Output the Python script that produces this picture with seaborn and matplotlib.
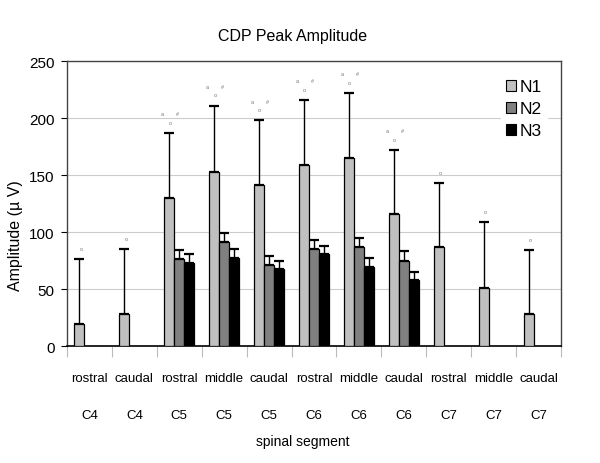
import numpy as np
import pandas as pd
import matplotlib
matplotlib.use("Agg")
import matplotlib.pyplot as plt
import seaborn as sns
from matplotlib.patches import Patch

# data
positions = ["rostral", "caudal", "rostral", "middle", "caudal", "rostral",
             "middle", "caudal", "rostral", "middle", "caudal"]
segments = ["C4", "C4", "C5", "C5", "C5", "C6", "C6", "C6", "C7", "C7", "C7"]

n1_mean = [19, 28, 130, 153, 141, 159, 165, 116, 87, 51, 28]
n1_err = [57, 57, 57, 58, 57, 57, 57, 56, 56, 58, 56]
n2_mean = [np.nan, np.nan, 76, 91, 71, 85, 87, 75, np.nan, np.nan, np.nan]
n2_err = [np.nan, np.nan, 8, 8, 8, 8, 8, 8, np.nan, np.nan, np.nan]
n3_mean = [np.nan, np.nan, 73, 77, 68, 81, 69, 58, np.nan, np.nan, np.nan]
n3_err = [np.nan, np.nan, 8, 8, 7, 7, 8, 7, np.nan, np.nan, np.nan]

# significance marks above the N1 bars
marks = ["c", "c", "ac#", "ac#", "ac#", "ac#", "ac#", "ac#", "c", "c", "c"]

series = ["N1", "N2", "N3"]
colors = ["#c0c0c0", "#808080", "#000000"]

labels = [p + "\n\n" + s for p, s in zip(positions, segments)]
rows = []
for name, means, errs in zip(series, [n1_mean, n2_mean, n3_mean], [n1_err, n2_err, n3_err]):
    for lab, m, e in zip(labels, means, errs):
        rows.append({"segment": lab, "series": name, "amp": m, "err": e})
df = pd.DataFrame(rows)

sns.set_style("white")
plt.rcParams["font.family"] = ["Liberation Sans Narrow", "Liberation Sans", "DejaVu Sans"]
plt.rcParams["text.color"] = "black"
plt.rcParams["axes.labelcolor"] = "black"
plt.rcParams["xtick.color"] = "black"
plt.rcParams["ytick.color"] = "black"

fig = plt.figure(figsize=(6, 4.64), dpi=100)
ax = fig.add_axes([0.1117, 0.252, 0.8233, 0.614])

sns.barplot(data=df, x="segment", y="amp", hue="series", order=labels,
            hue_order=series, palette=colors, width=0.67, edgecolor="black",
            linewidth=0.9, errorbar=None, legend=False, ax=ax, zorder=3)

# upper error bars, matched to the drawn bars (NaN rows have no bar)
bar_conts = list(ax.containers[:3])
n1_tops = []
for cont, name in zip(bar_conts, series):
    sub = df[(df["series"] == name) & df["amp"].notna()]
    for bar, (_, r) in zip(cont, sub.iterrows()):
        xc = bar.get_x() + bar.get_width() / 2
        ax.errorbar(xc, r["amp"], yerr=[[0], [r["err"]]], fmt="none",
                    ecolor="black", elinewidth=1.0, capsize=3.5, capthick=1.6,
                    zorder=2)
        if name == "N1":
            n1_tops.append((xc, r["amp"] + r["err"]))

for (xc, top), m in zip(n1_tops, marks):
    kw = dict(xycoords="data", textcoords="offset points", fontsize=4,
              color="#777777", ha="center", va="bottom")
    if len(m) == 1:
        ax.annotate("o", (xc, top), xytext=(1.5, 6), **kw)
    else:
        ax.annotate("a", (xc, top), xytext=(-5, 12), **kw)
        ax.annotate("o", (xc, top), xytext=(0.5, 6), **kw)
        ax.annotate("#", (xc, top), xytext=(6, 12), **kw)

ax.set_ylim(0, 250)
ax.set_xlim(-0.5, 10.5)
ax.set_yticks([0, 50, 100, 150, 200, 250])
ax.yaxis.grid(True, color="#cccccc", linewidth=0.8)
ax.set_axisbelow(True)
for side in ["top", "right", "left"]:
    ax.spines[side].set_color("#444444")
    ax.spines[side].set_linewidth(1.0)
ax.spines["bottom"].set_color("black")
ax.spines["bottom"].set_linewidth(1.2)

ax.set_xticks(np.arange(-0.5, 11, 1), minor=True)
ax.tick_params(axis="x", which="major", length=0, pad=19, labelsize=9.5)
ax.tick_params(axis="x", which="minor", length=8, color="#bbbbbb", width=0.8,
               direction="out", bottom=True)
ax.tick_params(axis="y", length=4, width=0.8, color="black", direction="out",
               left=True, pad=5, labelsize=11)
for t in ax.get_xticklabels():
    t.set_linespacing(1.7)

ax.set_xlabel("spinal segment", fontsize=10)
ax.xaxis.set_label_coords(0.478, -0.31)
ax.set_ylabel("Amplitude (\u00b5 V)", fontsize=11.5)
ax.yaxis.set_label_coords(-0.09, 0.39)

fig.text(0.488, 0.922, "CDP Peak Amplitude", ha="center", va="center", fontsize=11.5)

handles = [Patch(facecolor=c, edgecolor="black", linewidth=0.8) for c in colors]
leg = ax.legend(handles, series, loc="upper left", bbox_to_anchor=(0.86, 0.985),
                frameon=True, fontsize=12.5, handlelength=0.6, handleheight=0.6,
                handletextpad=0.2, labelspacing=0.4, borderpad=0.3)
leg.get_frame().set_edgecolor("white")
leg.get_frame().set_facecolor("white")
leg.get_frame().set_alpha(1)

fig.savefig("out.png", dpi=100)
